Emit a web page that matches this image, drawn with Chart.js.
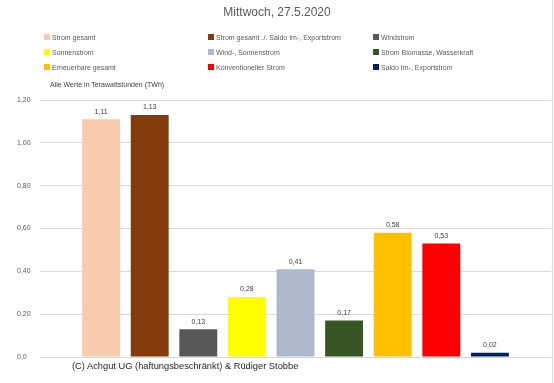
<!DOCTYPE html>
<html>
<head>
<meta charset="utf-8">
<script src="https://cdn.jsdelivr.net/npm/chart.js@4"></script>
<style>
  html, body { margin: 0; padding: 0; background: #fff; }
  #wrap { position: relative; width: 554px; height: 383px; overflow: hidden; font-family: "Liberation Sans", sans-serif; }
  #wrap:after { content: ""; position: absolute; right: 1px; top: 0; bottom: 0; border-right: 1px solid #d9d9d9; }
  canvas { position: absolute; left: 0; top: 0; }
  #title { position: absolute; top: 5px; left: 0; width: 554px; text-align: center; font-size: 12px; color: #595959; }
  #legend { position: absolute; left: 44px; top: 32px; display: grid; grid-template-columns: 164px 165px 170px; row-gap: 5px; font-size: 7px; color: #595959; }
  #legend div { display: flex; align-items: center; height: 10px; white-space: nowrap; }
  #legend span.box { width: 6px; height: 6px; margin-right: 2px; display: inline-block; }
  #unit { position: absolute; left: 50px; top: 81px; font-size: 7px; color: #404040; }
  #copy { position: absolute; left: 72px; top: 361px; font-size: 9.3px; color: #262626; }
</style>
</head>
<body>
<div id="wrap">
  <canvas id="chart" width="554" height="383"></canvas>
  <div id="title">Mittwoch, 27.5.2020</div>
  <div id="legend"></div>
  <div id="unit">Alle Werte in Terawattstunden (TWh)</div>
  <div id="copy">(C) Achgut UG (haftungsbeschränkt) &amp; Rüdiger Stobbe</div>
</div>
<script>
const seriesNames = [
  "Strom gesamt",
  "Strom gesamt ./. Saldo Im-, Exportstrom",
  "Windstrom",
  "Sonnenstrom",
  "Wind-, Sonnenstrom",
  "Strom Biomasse, Wasserkraft",
  "Erneuerbare gesamt",
  "Konventioneller Strom",
  "Saldo Im-, Exportstrom",
];
const seriesValues = [1.11, 1.13, 0.13, 0.28, 0.41, 0.17, 0.58, 0.53, 0.02];
const seriesColors = [
  "#F8CBAD", "#843C0C", "#595959",
  "#FFFF00", "#ADB9CA", "#375623",
  "#FFC000", "#FF0000", "#002060",
];
const yTicks = [0, 0.2, 0.4, 0.6, 0.8, 1.0, 1.2];

const fmt = (v) => v.toFixed(2).replace(".", ",");

// value labels above each bar
const valueLabels = {
  id: "valueLabels",
  afterDatasetsDraw(chart) {
    const ctx = chart.ctx;
    ctx.save();
    ctx.font = "7px 'Liberation Sans', sans-serif";
    ctx.fillStyle = "#404040";
    ctx.textAlign = "center";
    ctx.textBaseline = "bottom";
    chart.data.datasets.forEach((ds, i) => {
      const bar = chart.getDatasetMeta(i).data[0];
      ctx.fillText(fmt(ds.data[0]), bar.x, bar.y - 4);
    });
    ctx.restore();
  },
};

const datasets = seriesNames.map((name, i) => ({
  label: name,
  data: [seriesValues[i]],
  backgroundColor: seriesColors[i],
  categoryPercentage: 0.856,
  barPercentage: 0.78,
}));

const chart = new Chart(document.getElementById("chart"), {
  type: "bar",
  data: { labels: [""], datasets: datasets },
  options: {
    responsive: false,
    animation: false,
    layout: { padding: { left: 17, top: 100, right: 3, bottom: 26 } },
    plugins: { legend: { display: false }, tooltip: { enabled: false } },
    scales: {
      x: { display: false },
      y: {
        min: 0,
        max: 1.2,
        afterBuildTicks: (scale) => { scale.ticks = yTicks.map((v) => ({ value: v })); },
        afterFit: (scale) => { scale.width = 23; },
        grid: { color: "#d9d9d9", drawTicks: false },
        border: { display: false },
        ticks: {
          crossAlign: "far",
          padding: 0,
          color: "#595959",
          font: { family: "'Liberation Sans', sans-serif", size: 7 },
          callback: (v) => (v === 0 ? "0,0" : fmt(v)),
        },
      },
    },
  },
  plugins: [valueLabels],
});

// legend laid out as a 3-column grid, like the original
const legendEl = document.getElementById("legend");
chart.data.datasets.forEach((ds) => {
  const item = document.createElement("div");
  const box = document.createElement("span");
  box.className = "box";
  box.style.background = ds.backgroundColor;
  item.appendChild(box);
  item.appendChild(document.createTextNode(ds.label));
  legendEl.appendChild(item);
});
</script>
</body>
</html>
